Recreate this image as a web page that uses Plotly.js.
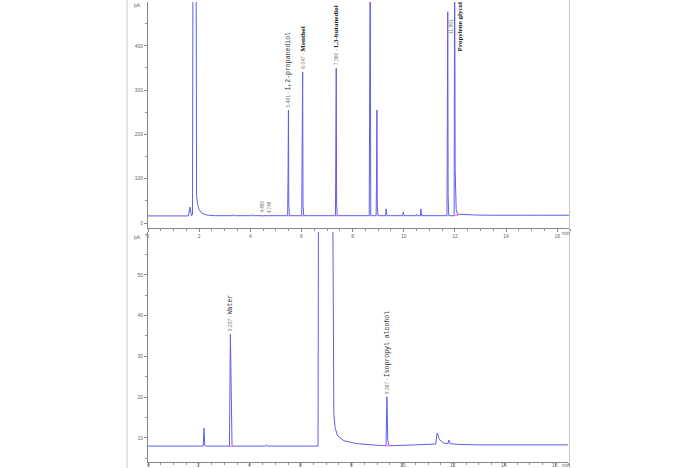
<!DOCTYPE html>
<html>
<head>
<meta charset="utf-8">
<script src="https://cdn.plot.ly/plotly-3.0.1.min.js"></script>
<style>html,body{margin:0;padding:0;background:#fff;}#chart{width:697px;height:468px;}</style>
</head>
<body>
<div id="chart"></div>
<script>
// ---- Top chromatogram (time in min, signal in pA) ----
const topTime = [0, 1.58, 1.64, 1.70, 1.74, 1.76, 1.88, 1.90, 1.95, 2.0, 2.1, 2.3, 2.6, 3.30, 3.33, 3.36, 4.07, 4.10, 4.13, 4.47, 4.49, 4.51, 4.73, 4.75, 4.77,
  5.46, 5.475, 5.491, 5.505, 5.53, 6.01, 6.03, 6.047, 6.06, 6.09, 7.33, 7.345, 7.36, 7.375, 7.40,
  8.65, 8.67, 8.69, 8.71, 8.92, 8.935, 8.95, 8.965, 8.99, 9.29, 9.31, 9.34, 9.96, 9.98, 10.01, 10.48, 10.50, 10.53, 10.65, 10.67, 10.70,
  11.69, 11.705, 11.72, 11.735, 11.76, 11.97, 11.99, 12.01, 12.03, 12.05, 12.10, 12.3, 12.8, 13.5, 14.0, 14.3, 14.6, 15.2, 16.5];
const topSignal = [16, 16, 36, 16, 20, 650, 650, 60, 40, 30, 22, 18, 16.5, 16.5, 19, 16.5, 16.5, 19, 16.5, 16.5, 18, 16.5, 16.5, 18, 16.5,
  16.5, 100, 255, 40, 16.5, 16.5, 115, 341, 40, 16.5, 16.5, 120, 350, 40, 16.5,
  16.5, 650, 650, 16.5, 16.5, 100, 255, 40, 16.5, 16.5, 32, 16.5, 16.5, 25, 16.5, 16.5, 20, 16.5, 16.5, 32, 16.5,
  16.5, 150, 477, 60, 16.5, 16.5, 650, 120, 75, 30, 20, 19, 18, 17.5, 18, 18.5, 17.5, 17.5, 17.5];

// ---- Bottom chromatogram ----
const botTime = [0, 2.17, 2.20, 2.23, 2.28, 3.20, 3.237, 3.27, 3.30, 3.35, 4.62, 4.66, 4.70, 6.68, 6.70, 7.25, 7.27, 7.30, 7.35, 7.45, 7.7, 8.2, 9.0, 9.35, 9.387, 9.42, 9.46, 9.6, 10.5, 11.30, 11.36, 11.45, 11.6, 11.78, 11.82, 11.86, 12.2, 13.0, 16.5];
const botSignal = [8.0, 8.0, 12.4, 8.2, 8.0, 8.0, 35.4, 9.5, 8.4, 8.0, 8.0, 8.3, 8.0, 8.0, 80, 80, 30, 16, 12.5, 10.5, 9.3, 8.6, 8.2, 8.1, 20.1, 9.5, 8.2, 8.1, 8.3, 8.5, 11.2, 9.6, 8.8, 8.6, 9.5, 8.6, 8.4, 8.3, 8.3];

// ---- Peak labels ----
const topLabelTime = [5.491, 6.047, 7.360, 12.03];
const topLabelValue = [255, 341, 350, 380];
const topLabelRT = ["5.491", "6.047", "7.360", "11.991"];
const topLabelName = ["1,2-propanediol", "Menthol", "1,3-butanediol", "Propylene glycol"];
const topLabelMono = [true, false, false, false];
const smallLabelTime = [4.489, 4.748];
const smallLabelText = ["4.489", "4.748"];
const botLabelTime = [3.237, 9.387];
const botLabelValue = [35.4, 20.1];
const botLabelRT = ["3.237", "9.387"];
const botLabelName = ["Water", "Isopropyl alcohol"];

// ---- Axis ticks ----
const xTickVals = [0, 2, 4, 6, 8, 10, 12, 14, 16];
const topYTicks = [0, 100, 200, 300, 400];
const botYTicks = [10, 20, 30, 40, 50];

// integration baseline marks
const pinkTopT = [4.46, 4.52, null, 4.72, 4.78, null, 5.45, 5.55, null, 6.0, 6.1, null, 7.32, 7.42, null, 11.95, 12.15];
const pinkTopV = [16.5, 16.5, null, 16.5, 16.5, null, 16.5, 16.5, null, 16.5, 16.5, null, 16.5, 16.5, null, 17, 18];
const pinkBotT = [3.18, 3.40, null, 9.32, 9.55];
const pinkBotV = [8.0, 8.0, null, 8.1, 8.1];

const lineColor = 'rgb(95,95,235)';
const tickFont = {family: 'Liberation Sans, Arial', size: 5, color: '#666'};

const traces = [
  {x: topTime, y: topSignal, xaxis: 'x', yaxis: 'y', mode: 'lines', line: {color: lineColor, width: 1}, hoverinfo: 'skip'},
  {x: pinkTopT, y: pinkTopV, xaxis: 'x', yaxis: 'y', mode: 'lines', line: {color: 'rgba(240,110,210,0.8)', width: 1.5}, hoverinfo: 'skip'},
  {x: botTime, y: botSignal, xaxis: 'x2', yaxis: 'y2', mode: 'lines', line: {color: lineColor, width: 1}, hoverinfo: 'skip'},
  {x: pinkBotT, y: pinkBotV, xaxis: 'x2', yaxis: 'y2', mode: 'lines', line: {color: 'rgba(240,110,210,0.8)', width: 1.5}, hoverinfo: 'skip'}
];

function xAxis(domain, anchor, showLabels) {
  return {
    domain: domain, anchor: anchor, range: [0, 16.5], showgrid: false, zeroline: false,
    showline: true, linecolor: '#888', linewidth: 1,
    ticks: 'outside', ticklen: 3, tickcolor: '#888', tickwidth: 1,
    tickvals: xTickVals, ticktext: xTickVals.map(String), tickfont: tickFont, showticklabels: showLabels,
    minor: {dtick: 0.5, tick0: 0, ticks: 'outside', ticklen: 2, tickcolor: '#999', showgrid: false}
  };
}
function yAxis(domain, anchor, range, tickvals, minorDt) {
  return {
    domain: domain, anchor: anchor, range: range, showgrid: false, zeroline: false,
    showline: true, linecolor: '#888', linewidth: 1,
    ticks: 'outside', ticklen: 3, tickcolor: '#888', tickwidth: 1,
    tickvals: tickvals, ticktext: tickvals.map(String), tickfont: tickFont,
    minor: {dtick: minorDt, tick0: 0, ticks: 'outside', ticklen: 2, tickcolor: '#999', showgrid: false}
  };
}

const annotations = [];
function rtSpan(rt) {
  return '<span style="font-family:Liberation Sans;font-size:5px;fill:#777">' + rt + ' - </span>';
}
for (let i = 0; i < topLabelTime.length; i++) {
  const mono = topLabelMono[i];
  const nameSpan = mono
    ? '<span style="font-family:Liberation Mono;font-size:6.5px;fill:#333">' + topLabelName[i] + '</span>'
    : '<b><span style="font-family:Liberation Serif;font-size:7px;fill:#222">' + topLabelName[i] + '</span></b>';
  const text = (i === 3)
    ? '<span style="font-family:Liberation Sans;font-size:5px;fill:#777">' + topLabelRT[i] + '</span><br>' + nameSpan
    : rtSpan(topLabelRT[i]) + nameSpan;
  annotations.push({
    x: topLabelTime[i], y: topLabelValue[i], xref: 'x', yref: 'y', text: text,
    textangle: -90, showarrow: false, xanchor: 'center', yanchor: 'bottom', yshift: 1,
    font: {size: 7, color: '#333'}, align: 'center'
  });
}
for (let i = 0; i < smallLabelTime.length; i++) {
  annotations.push({
    x: smallLabelTime[i], y: 16.5, xref: 'x', yref: 'y', text: smallLabelText[i],
    textangle: -90, showarrow: false, xanchor: 'center', yanchor: 'bottom', yshift: 1,
    font: {family: 'Liberation Sans', size: 4.5, color: '#777'}
  });
}
for (let i = 0; i < botLabelTime.length; i++) {
  const text = rtSpan(botLabelRT[i]) + '<span style="font-family:Liberation Mono;font-size:6.5px;fill:#333">' + botLabelName[i] + '</span>';
  annotations.push({
    x: botLabelTime[i], y: botLabelValue[i], xref: 'x2', yref: 'y2', text: text,
    textangle: -90, showarrow: false, xanchor: 'center', yanchor: 'bottom', yshift: 1,
    font: {size: 7, color: '#333'}
  });
}
// bottom x tick labels, tucked just under the axis
for (let i = 0; i < xTickVals.length; i++) {
  annotations.push({
    x: xTickVals[i], y: 1 - 465/468, xref: 'x2', yref: 'paper', text: String(xTickVals[i]),
    showarrow: false, xanchor: 'center', yanchor: 'middle', font: tickFont
  });
}
// unit labels
annotations.push({x: 0.205, y: 0.99, xref: 'paper', yref: 'paper', text: 'pA', showarrow: false, xanchor: 'right', yanchor: 'middle', font: tickFont});
annotations.push({x: 0.205, y: 0.494, xref: 'paper', yref: 'paper', text: 'pA', showarrow: false, xanchor: 'right', yanchor: 'middle', font: tickFont});
annotations.push({x: 0.8125, y: 1 - 233/468, xref: 'paper', yref: 'paper', text: 'min', showarrow: false, xanchor: 'center', yanchor: 'middle', font: tickFont});
annotations.push({x: 0.8125, y: 1 - 465/468, xref: 'paper', yref: 'paper', text: 'min', showarrow: false, xanchor: 'center', yanchor: 'middle', font: tickFont});

const layout = {
  width: 697, height: 468,
  margin: {l: 0, r: 0, t: 0, b: 0},
  paper_bgcolor: '#fff', plot_bgcolor: 'rgba(0,0,0,0)',
  showlegend: false,
  xaxis: xAxis([148/697, 570/697], 'y', true),
  yaxis: yAxis([1 - 228/468, 1 - 2/468], 'x', [-11.3, 499], topYTicks, 50),
  xaxis2: xAxis([148/697, 568/697], 'y2', false),
  yaxis2: yAxis([1 - 462/468, 1 - 232/468], 'x2', [4.1, 60.5], botYTicks, 5),
  annotations: annotations,
  shapes: [
    {type: 'line', xref: 'paper', yref: 'paper', x0: 127/697, x1: 127/697, y0: 0, y1: 1, line: {color: '#c8c8c8', width: 1}},
    {type: 'line', xref: 'paper', yref: 'paper', x0: 569.5/697, x1: 569.5/697, y0: 0, y1: 1, line: {color: '#c8c8c8', width: 1}}
  ]
};

Plotly.newPlot('chart', traces, layout, {staticPlot: true, displayModeBar: false});
</script>
</body>
</html>
